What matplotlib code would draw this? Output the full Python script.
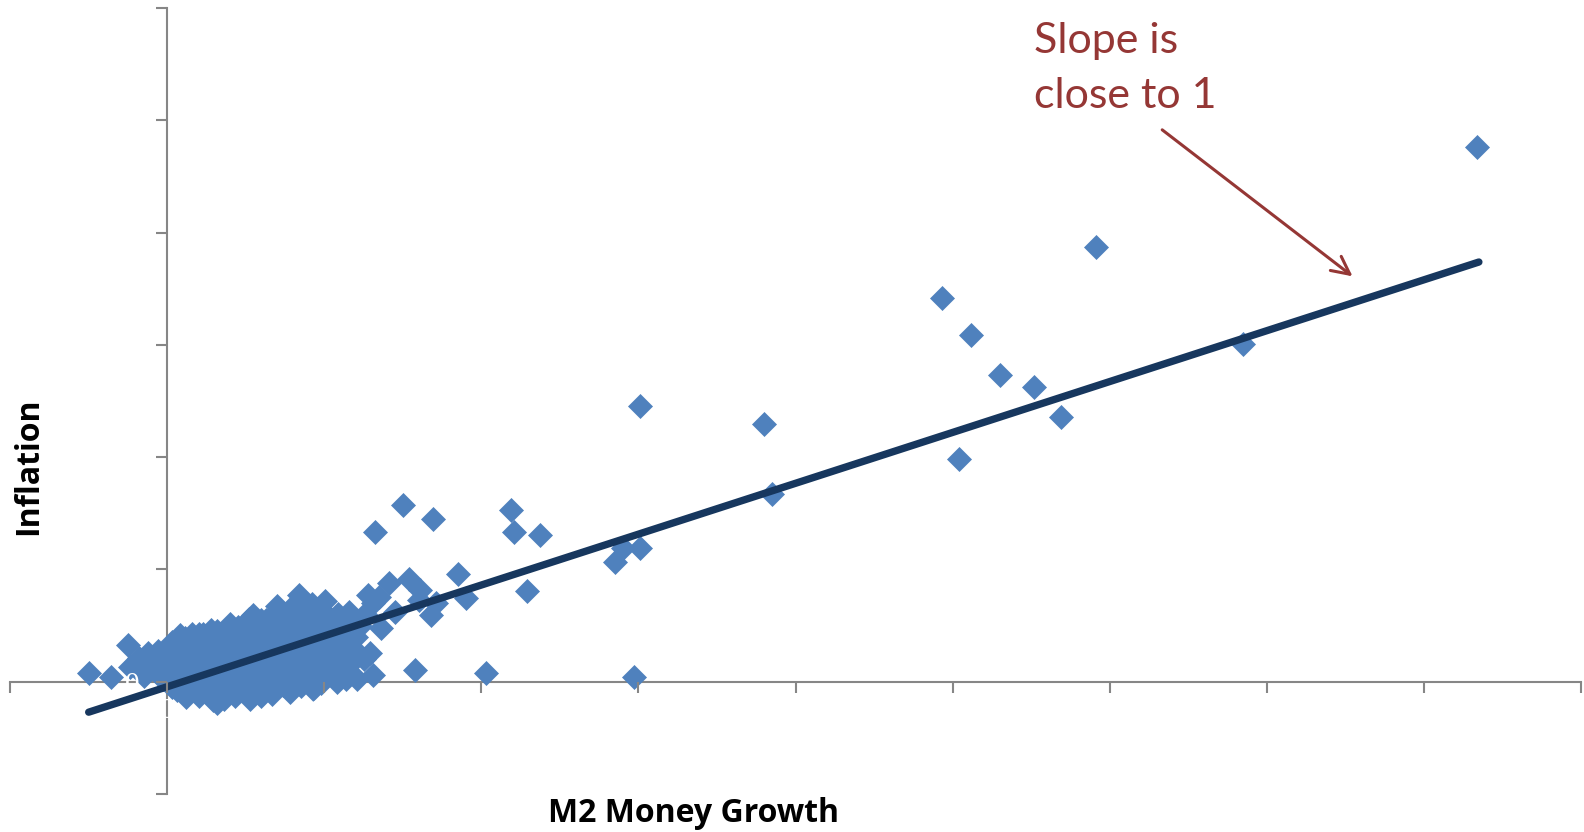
import numpy as np
import matplotlib
matplotlib.use("Agg")
import matplotlib.pyplot as plt

# M2 money growth (x) vs inflation (y)
money_growth = [
    83.4, 59.1, 49.3, 51.2, 53.0, 55.2, 56.9, 50.4, 68.5, 38.0, 38.5, 30.1,
    28.5, 29.0, 30.1, 29.7, 20.3, 21.9, 22.1, 23.7, 22.9, 15.0, 16.9, 13.2,
    14.1, 15.4, 18.5, 19.0, 16.1, 16.8, 12.8, 13.1, 13.6, 12.9, 15.8, 13.1,
    11.6, 14.5, 17.1, 13.5, 11.9, 16.0,
    -5.0, -3.6, -2.5, -1.2, -2.4, 0.8, 3.2,
    -2.0, -1.5, -0.8, -0.5, -0.3, 0.2, 0.4, 0.6, 0.9, 1.0,
    1.2, 1.3, 1.5, 1.7, 1.9, 2.0, 2.2, 2.4, 2.6, 2.8, 2.9, 3.0, 3.2, 3.4, 3.5,
    3.7, 3.8, 4.0, 4.1, 4.3, 4.5, 4.6, 4.8, 5.0, 5.1, 5.3, 5.45, 5.5, 5.6,
    5.8, 5.9, 6.0,
    6.2, 6.3, 6.4, 6.6, 6.7, 6.9, 7.0, 7.1, 7.3, 7.4, 7.5, 7.7, 7.8, 7.9,
    8.0, 8.1,
    8.3, 8.4, 8.5, 8.6, 8.8, 8.9, 9.0, 9.1, 9.3, 9.4, 9.6, 9.7, 9.8, 10.0,
    10.06, 10.2,
    10.4, 10.6, 10.7, 10.9, 11.0, 11.2, 11.4, 11.6, 11.8, 12.1, 12.3,
    0.5, 1.0, 1.8, 2.5, 3.0, 3.6, 4.2, 4.4, 4.9, 5.2, 5.7, 6.1, 6.5, 6.8,
    7.2, 7.6, 8.2, 8.7, 9.2, 9.5, 9.9, 10.3, 10.5, 11.1, 11.5, 3.9, 2.7,
    5.4, 6.9, 8.1, 9.4, 12.0, 12.5, 12.6, 1.6, 0.0, -1.0, 7.0, 4.0, 2.3,
    7.8, 9.3, 6.0,
]
inflation = [
    95.3, 77.5, 68.4, 61.7, 54.6, 52.5, 47.1, 39.7, 60.2, 45.9, 33.5, 49.1,
    21.4, 23.8, 23.8, 0.9, 1.6, 30.6, 26.6, 26.1, 16.2, 31.5, 29.0, 26.6,
    17.6, 18.3, 19.1, 14.9, 16.4, 11.9, 15.5, 14.0, 9.6, 5.1, 2.1, 1.2,
    1.5, 12.5, 14.0, 15.0, 11.0, 14.6,
    1.6, 0.8, 6.6, 5.1, 2.7, 8.4, -3.8,
    3.5, 1.0, 2.2, 4.0, 0.5, 6.0, 2.8, -1.5, 4.5, 1.0,
    -2.8, 6.5, 3.0, 0.0, 5.2, 7.5, -1.0, 2.0, 4.2, 6.0, -3.2, 0.8, 9.0, 3.3, 5.5,
    -1.8, 7.2, 1.5, 4.0, -2.6, 9.8, 6.0, 2.6, 0.2, 4.8, -3.0, 11.9, 7.8, 2.0,
    9.5, -1.0, 5.5,
    3.5, 11.0, 0.5, 7.0, -2.2, 9.0, 4.8, 1.8, 12.5, -0.5, 6.5, 10.5, 3.0, 0.8,
    13.5, 8.0,
    5.5, 15.5, -0.8, 2.5, 11.5, 7.0, 0.2, 4.0, 13.0, 9.5, 1.5, 6.0, -0.3, 11.0,
    14.3, 3.2,
    8.3, 7.2, 1.0, 12.0, 9.8, 4.5, 0.4, 12.5, 6.0, 0.4, 10.0,
    0.0, 3.5, 2.0, 5.5, 7.0, 1.0, 5.5, 8.0, 3.5, 10.5, 4.0, 8.5, 2.5, 5.8,
    8.8, 2.0, 10.0, 4.8, 8.0, 11.5, 5.0, 10.0, 2.5, 7.5, 10.5, -0.5, -1.5,
    -1.8, 0.2, 1.5, 2.8, 8.0, 4.0, 12.0, 8.5, 3.0, 3.5, 13.5, 10.2, 8.5,
    -1.8, -1.3, -2.5,
]

# the solid blob of low-growth countries near the origin
dense_growth = [
    -1.8, -1.8,
    -0.6, -0.6, -0.6,
    0.3, 0.3, 0.3, 0.3,
    1.1, 1.1, 1.1, 1.1, 1.1,
    2.0, 2.0, 2.0, 2.0, 2.0, 2.0,
    2.8, 2.8, 2.8, 2.8, 2.8, 2.8,
    3.6, 3.6, 3.6, 3.6, 3.6, 3.6,
    4.4, 4.4, 4.4, 4.4, 4.4,
    5.2, 5.2, 5.2, 5.2, 5.2, 5.2,
    6.0, 6.0, 6.0, 6.0, 6.0, 6.0,
    6.8, 6.8, 6.8, 6.8, 6.8, 6.8,
    7.6, 7.6, 7.6, 7.6, 7.6,
    8.4, 8.4, 8.4, 8.4, 8.4,
    9.2, 9.2, 9.2, 9.2, 9.2,
    10.0, 10.0, 10.0, 10.0, 10.0,
    10.8, 10.8, 10.8, 10.8,
    11.6, 11.6, 11.6,
]
dense_inflation = [
    2.0, 4.2,
    1.5, 3.0, 5.5,
    -1.0, 1.5, 4.0, 7.0,
    -2.0, 0.5, 2.5, 5.0, 7.8,
    -2.5, -0.3, 1.2, 3.8, 6.2, 8.5,
    -2.0, 0.0, 2.5, 4.8, 7.5, 9.2,
    -3.0, -1.0, 2.0, 4.5, 6.8, 8.8,
    -2.0, 0.5, 3.0, 6.8, 9.2,
    -1.0, 1.2, 3.0, 6.5, 8.5, 11.2,
    -1.5, 1.0, 3.0, 7.2, 9.8, 11.0,
    -0.8, 1.2, 4.0, 8.0, 10.2, 12.0,
    -1.2, 1.0, 4.5, 9.0, 11.8,
    0.0, 3.0, 6.3, 9.0, 12.8,
    -0.5, 2.0, 5.2, 10.5, 13.8,
    0.8, 4.2, 7.0, 9.0, 12.5,
    0.0, 3.0, 5.5, 10.8,
    3.0, 7.5, 9.5,
]

# fitted trend line
trend_slope = 0.906
trend_intercept = -0.9
trend_x = np.array([-5.0, 83.5])

x_ticks = np.arange(-10, 91, 10)
y_ticks = np.arange(-20, 121, 20)

fig = plt.figure(figsize=(15.84, 8.32), dpi=100)
ax = fig.add_axes([0.0064, 0.0457, 0.9917, 0.9447])

ax.plot(money_growth + dense_growth, inflation + dense_inflation, linestyle="none",
        marker="D", markersize=12.3, color="#4F81BD", markeredgecolor="#4F81BD",
        markeredgewidth=0.5, zorder=3)
ax.plot(trend_x, trend_slope * trend_x + trend_intercept, color="#17375E",
        linewidth=5.3, solid_capstyle="round", zorder=4)

ax.set_xlim(-10, 90)
ax.set_ylim(-20, 120)
ax.set_xticks(x_ticks)
ax.set_yticks(y_ticks)
# labels are white in the original; outer ones left blank
ax.set_xticklabels([str(v) if -10 < v < 90 else "" for v in x_ticks])
ax.set_yticklabels([str(v) for v in y_ticks])

for side in ["top", "right"]:
    ax.spines[side].set_visible(False)
ax.spines["left"].set_position(("data", 0))
ax.spines["bottom"].set_position(("data", 0))
for side in ["left", "bottom"]:
    ax.spines[side].set_color("#868686")
    ax.spines[side].set_linewidth(1.5)
    ax.spines[side].set_zorder(1)
ax.xaxis.set_zorder(5)
ax.yaxis.set_zorder(5)
ax.tick_params(axis="both", direction="out", length=8, width=1.5, color="#868686",
               labelcolor="white", labelsize=21)
ax.tick_params(axis="y", pad=12)
for lab in ax.get_xticklabels() + ax.get_yticklabels():
    lab.set_family("Liberation Serif")

fig.text(0.018, 0.44, "Inflation", rotation=90, ha="center", va="center",
         fontsize=23, fontweight="bold", family="Open Sans")
fig.text(0.4375, 0.022, "M2 Money Growth", ha="center", va="center",
         fontsize=23, fontweight="bold", family="Open Sans")

ax.annotate("", xy=(75.6, 71.9), xytext=(63.2, 98.6),
            arrowprops=dict(arrowstyle="->", color="#953735", lw=2.2,
                            mutation_scale=32))
fig.text(0.653, 0.973, "Slope is\nclose to 1", ha="left", va="top", color="#953735",
         fontsize=31, family="Lato", linespacing=1.52)

fig.savefig("out.png", dpi=100)
